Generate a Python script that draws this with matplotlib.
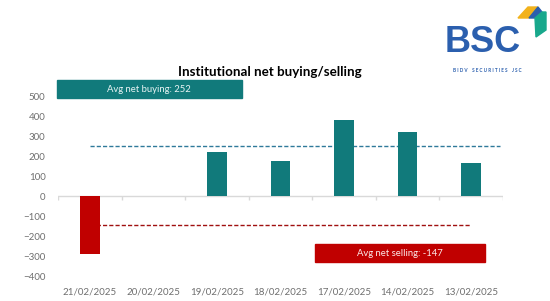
import matplotlib.pyplot as plt
from matplotlib.patches import Polygon

dates = ['21/02/2025', '20/02/2025', '19/02/2025', '18/02/2025',
         '17/02/2025', '14/02/2025', '13/02/2025']
net_value = [-290, 0, 222, 175, 380, 318, 165]
avg_buy = 252
avg_sell = -147

teal = '#117a7b'
red = '#c00000'
grey = '#6f6f6f'

plt.rcParams['font.family'] = ['Lato', 'DejaVu Sans']

fig = plt.figure(figsize=(5.5, 3.01), dpi=100)
W, H = 550, 301
ax = fig.add_axes([58 / W, 1 - 276 / H, 445 / W, 180 / H])

x = list(range(len(dates)))
colors = [teal if v >= 0 else red for v in net_value]
ax.bar(x, net_value, width=0.31, color=colors, zorder=3)

# average lines
ax.hlines(avg_buy, 0, 6.45, colors='#2f7a9a', linestyles=(0, (3, 1.5)), lw=1, zorder=2)
ax.hlines(avg_sell, 0, 6.0, colors='#a01010', linestyles=(0, (3, 1.5)), lw=1, zorder=2)

# x axis line at zero with category boundary ticks
ax.axhline(0, color='#d9d9d9', lw=1, zorder=1)
ax.vlines([i - 0.5 for i in range(len(dates) + 1)], -20, 0, colors='#d9d9d9', lw=1)

ax.set_xlim(-0.5, 6.5)
ax.set_ylim(-400, 500)
ax.set_yticks(range(-400, 501, 100))
ax.set_xticks(x)
ax.set_xticklabels(dates)
ax.tick_params(length=0, labelsize=7.0, colors=grey)
ax.tick_params(axis='y', pad=9)
ax.tick_params(axis='x', pad=8.5)
for s in ax.spines.values():
    s.set_visible(False)

# title
fig.text(270 / W, 1 - 72 / H, 'Institutional net buying/selling', ha='center', va='center',
         fontsize=9.6, fontweight='bold', color='black')

# annotation boxes
fig.patches.append(plt.Rectangle((57 / W, 1 - 98 / H), 185 / W, 18 / H,
                                 transform=fig.transFigure, color=teal))
fig.text(149 / W, 1 - 89 / H, f'Avg net buying: {avg_buy}', ha='center', va='center',
         fontsize=6.8, color='#e8f4f4')
fig.patches.append(plt.Rectangle((315 / W, 1 - 262 / H), 170 / W, 18 / H,
                                 transform=fig.transFigure, color=red))
fig.text(400 / W, 1 - 253 / H, f'Avg net selling: {avg_sell}', ha='center', va='center',
         fontsize=6.8, color='#fbeaea')

# logo
fig.text(445 / W, 1 - 43 / H, 'BSC', ha='left', va='center', fontsize=26,
         fontweight='bold', color='#2b5fae', family='Liberation Sans')
fig.text(487 / W, 1 - 70 / H, 'B I D V    S E C U R I T I E S    J S C', ha='center',
         va='center', fontsize=3.3, color='#2b5fae', fontweight='bold')
def px(pts):
    return [(a / W, 1 - b / H) for a, b in pts]
fig.patches.append(Polygon(px([(518, 18), (528, 7), (538, 7), (529, 18)]),
                           closed=True, transform=fig.transFigure, color='#f2b21b'))
fig.patches.append(Polygon(px([(529, 18), (538, 7), (542, 12), (535, 18)]),
                           closed=True, transform=fig.transFigure, color='#2b5fae'))
fig.patches.append(Polygon(px([(535, 18), (542, 12), (546, 12), (546, 30), (536, 37)]),
                           closed=True, transform=fig.transFigure, color='#18a88c'))

fig.savefig('out.png', dpi=100, facecolor='white')
